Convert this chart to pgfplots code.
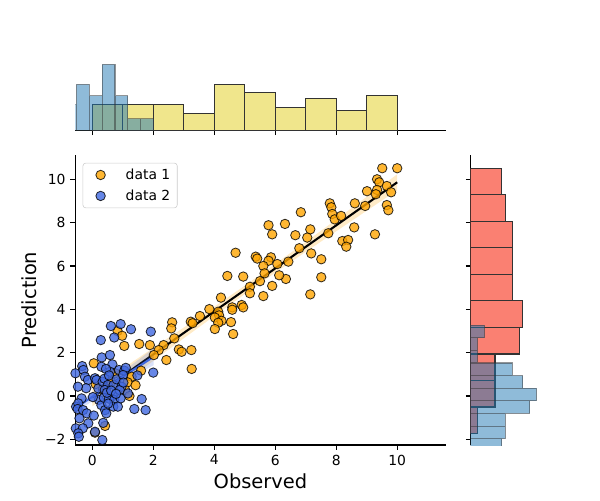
\documentclass[border=0pt]{standalone}
\usepackage{fontspec}
\setmainfont{DejaVu Sans}
\usepackage{pgfplots}
\pgfplotsset{compat=1.18}
\definecolor{dorange}{RGB}{255,165,0}
\definecolor{royal}{RGB}{65,105,225}
\definecolor{khakiy}{RGB}{240,230,140}
\definecolor{salmonr}{RGB}{250,128,114}
\definecolor{tabblue}{RGB}{31,119,180}
\pgfplotsset{mylegimg/.style={legend image code/.code={\path[draw=none,fill=none,rounded corners=0pt] (0pt,-3pt) rectangle (25.8pt,3pt); \draw[##1] plot coordinates {(9.7pt,0pt)};}}}
\begin{document}
\begin{tikzpicture}
\path[use as bounding box] (0,0) rectangle (432pt,360pt);
% ---------------- main joint axis ----------------
\begin{axis}[
  at={(54.2pt,39.6pt)}, anchor=south west, scale only axis,
  width=266.7pt, height=208.8pt,
  xmin=-0.557, xmax=11.59, ymin=-2.26, ymax=11.12,
  axis lines=left, axis line style={-, line width=0.8pt, black},
  tick align=outside, major tick length=3.5pt, tick style={line width=0.8pt, black},
  xtick={0,2,4,6,8,10}, xticklabels={0,2,4,6,8,10},
  ytick={-2,0,2,4,6,8,10}, yticklabels={−2,0,2,4,6,8,10},
  tick label style={font=\fontsize{10}{12}\selectfont},
  xlabel={Observed}, ylabel={Prediction},
  label style={font=\fontsize{14}{16}\selectfont},
  x label style={at={(axis description cs:0.5,-0.1264)}, anchor=center},
  y label style={at={(axis description cs:-0.125,0.5)}, anchor=center},
  legend cell align=left,
  legend style={at={(0.02,0.973)}, anchor=north west, draw=black!20, rounded corners=2pt,
    fill=white, fill opacity=0.8, text opacity=1, font=\fontsize{10}{12}\selectfont,
    inner xsep=3pt, inner ysep=2pt, row sep=2pt},
]
\addplot[only marks, mark=*, mark size=3.4pt,
  mark options={fill=dorange, draw=black, line width=0.6pt, opacity=0.8}, mylegimg] coordinates {
(9.51,10.51) (10.0,10.51) (9.34,10.0) (9.41,9.86) (9.66,9.69) (9.34,9.51) (9.30,9.31)
(9.01,9.45) (8.95,8.77) (9.66,8.81) (9.71,8.57) (8.61,8.89) (7.79,8.89) (7.84,8.71)
(7.87,8.40) (7.95,8.15) (8.16,8.31) (8.59,7.78) (7.74,7.51) (9.27,7.46) (8.20,7.15)
(8.39,7.20) (8.33,6.89) (6.84,8.48) (6.32,7.94) (5.78,7.88) (5.90,7.46) (6.66,7.42)
(7.15,7.69) (7.05,7.31) (6.79,6.82) (7.18,6.58) (7.51,6.31) (7.51,5.48) (7.15,4.69)
(6.43,6.20) (6.35,5.40) (6.13,5.57) (5.90,5.08) (5.61,4.61) (6.07,6.09) (5.86,6.40)
(5.78,6.24) (5.61,6.00) (5.65,5.66) (5.36,6.43) (5.41,6.34) (5.17,5.04) (5.17,4.74)
(5.50,5.30) (9.80,9.40)
(4.70,6.61) (4.43,5.54) (4.95,5.51) (4.22,4.54) (4.59,4.09) (4.59,3.98) (4.90,4.20)
(4.95,4.09) (4.13,3.89) (4.16,3.72) (4.02,3.62) (4.24,3.47) (4.13,3.38) (4.55,3.41)
(4.02,3.09) (4.62,2.86)
(3.84,4.01) (3.53,3.69) (3.23,3.43) (3.29,3.36) (3.25,2.12) (3.26,1.25)
(2.62,3.40) (2.59,3.12) (2.69,2.66) (2.34,2.35) (2.18,2.12) (2.02,1.89) (2.84,2.15)
(2.93,2.04) (2.43,1.66)
(1.89,2.35) (1.54,2.40) (1.05,2.31) (1.60,1.17) (1.29,0.89) (1.16,0.63) (1.42,0.50)
(1.08,0.28) (1.22,0.00)
(0.83,3.00) (0.98,2.78) (0.05,1.51) (0.11,0.55) (0.42,-1.38) (0.09,-1.69) (0.35,0.30)
(0.62,0.65) (0.75,1.05)
};
\addlegendentry{data 1}
\addplot[only marks, mark=*, mark size=3.4pt,
  mark options={fill=royal, draw=black, line width=0.6pt, opacity=0.8}, mylegimg] coordinates {
(-0.55,1.05) (-0.53,-0.49) (-0.54,-1.49) (-0.62,1.30) (-0.63,-0.05) (-0.62,-1.00)
(-0.64,-1.90) (-0.70,0.70) (-0.85,-0.60)
(-0.33,1.38) (-0.29,1.20) (-0.24,0.89) (-0.14,0.74) (-0.20,0.36) (-0.47,0.43)
(-0.35,-0.11) (-0.46,-0.34) (-0.48,-0.60) (-0.30,-0.65) (-0.18,-0.80) (-0.42,-1.03)
(-0.13,-1.26) (-0.31,-1.49) (-0.46,-1.72) (-0.44,-1.88)
(0.28,2.58) (0.31,1.78) (0.30,1.35) (0.09,0.82) (0.14,0.74) (0.22,-0.18) (0.30,-0.42)
(0.02,-0.05) (0.09,-1.65) (0.33,-2.03) (0.20,0.35) (0.05,-0.90)
(0.61,3.23) (0.72,2.70) (0.58,1.89) (0.66,1.46) (0.58,1.12) (0.45,1.25) (0.34,0.66)
(0.40,0.80) (0.51,0.51) (0.70,0.51) (0.41,0.28) (0.68,0.00) (0.38,-0.08) (0.55,-0.12)
(0.72,-0.18) (0.42,-0.65) (0.69,-0.49) (0.46,-0.80) (0.36,-1.24) (0.55,0.95) (0.48,0.15)
(0.62,0.25) (0.52,-0.35)
(0.93,3.32) (0.80,0.77) (0.88,1.20) (1.05,1.17) (1.10,1.30) (1.01,0.97) (0.96,0.43)
(0.90,0.28) (0.93,-0.11) (0.84,-0.49) (1.02,0.62) (0.78,0.10)
(1.27,3.08) (1.17,0.12) (1.38,-0.60) (1.48,0.95)
(1.92,2.97) (2.00,1.08) (1.62,-0.14) (1.75,-0.65)
};
\addlegendentry{data 2}
% regression data 1
\addplot[fill=dorange, fill opacity=0.22, draw=none, forget plot] coordinates {
(0,0.34) (1,1.27) (2,2.22) (3,3.16) (4,4.12) (5,5.09) (6,6.09) (7,7.11) (8,8.14) (9,9.19) (10,10.23)
(10,9.49) (9,8.55) (8,7.60) (7,6.65) (6,5.69) (5,4.70) (4,3.69) (3,2.66) (2,1.62) (1,0.57) (0,-0.48)
} -- cycle;
\addplot[black, line width=1.5pt, forget plot] coordinates {(0,-0.07) (10,9.86)};
% regression data 2
\addplot[fill=royal, fill opacity=0.2, draw=none, forget plot] coordinates {
(-2.19,-1.66) (-1,-0.72) (-0.5,-0.29) (0,0.16) (0.5,0.63) (1,1.14) (1.5,1.66) (2.01,2.20)
(2.01,1.42) (1.5,1.02) (1,0.62) (0.5,0.21) (0,-0.24) (-0.5,-0.71) (-1,-1.20) (-2.19,-2.45)
} -- cycle;
\addplot[royal, line width=1.5pt, forget plot] coordinates {(-2.19,-2.055) (2.01,1.81)};
\end{axis}
% ---------------- top marginal ----------------
\begin{axis}[
  at={(54.2pt,266.2pt)}, anchor=south west, scale only axis,
  width=266.7pt, height=49.9pt,
  xmin=-0.557, xmax=11.59, ymin=0, ymax=24.15,
  axis x line=bottom, axis y line=none, axis line style={-, line width=0.8pt, black},
  tick align=outside, major tick length=3.5pt, tick style={line width=0.8pt, black},
  xtick={0,2,4,6,8,10}, xticklabels={},
]
\addplot[ybar interval, fill=khakiy, draw=black!80, line width=0.75pt] coordinates {
(0,9) (1,9) (2,9) (3,6) (4,16) (5,13) (6,8) (7,11) (8,7) (9,12) (10,12)};
\addplot[ybar interval, fill=tabblue, fill opacity=0.5, draw=black!80, draw opacity=0.5, line width=0.75pt] coordinates {
(-0.941,9) (-0.519,16) (-0.098,12) (0.324,23) (0.746,12) (1.167,4) (1.589,4) (2.01,4)};
\end{axis}
% ---------------- right marginal ----------------
\begin{axis}[
  at={(338.9pt,39.6pt)}, anchor=south west, scale only axis,
  width=49.9pt, height=208.8pt,
  xmin=0, xmax=19.95, ymin=-2.26, ymax=11.12,
  axis y line=left, axis x line=none, axis line style={-, line width=0.8pt, black},
  tick align=outside, major tick length=3.5pt, tick style={line width=0.8pt, black},
  ytick={-2,0,2,4,6,8,10}, yticklabels={},
]
\addplot[xbar interval, fill=salmonr, draw=black!80, line width=0.75pt] coordinates {
(2,-1.73) (7,-0.507) (7,0.716) (14,1.939) (15,3.162) (12,4.385) (12,5.608) (12,6.831) (10,8.054) (9,9.277) (9,10.5)};
\addplot[xbar interval, fill=tabblue, fill opacity=0.5, draw=black!80, draw opacity=0.5, line width=0.75pt] coordinates {
(9,-2.55) (10,-1.968) (10,-1.386) (17,-0.804) (19,-0.222) (15,0.36) (12,0.942) (2,1.524) (2,2.106) (4,2.688) (4,3.27)};
\end{axis}
\end{tikzpicture}
\end{document}
